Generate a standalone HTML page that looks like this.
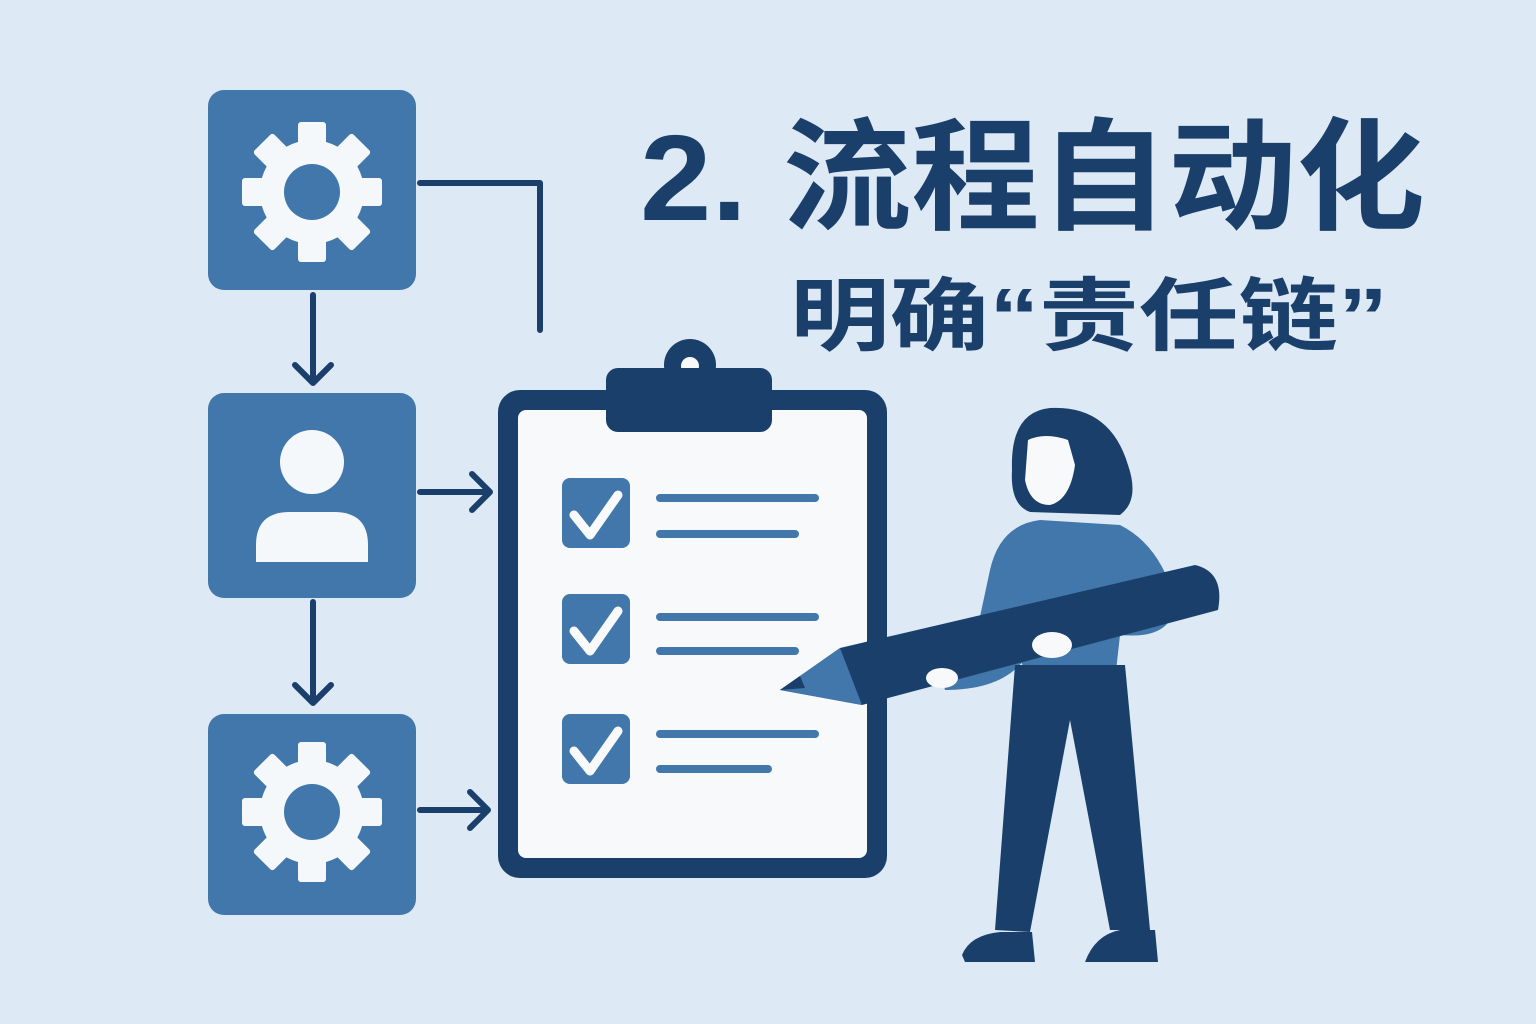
<!DOCTYPE html>
<html><head><meta charset="utf-8"><style>
html,body{margin:0;padding:0;background:#dde9f4;}
svg{display:block}
</style></head><body>
<svg width="1536" height="1024" viewBox="0 0 1536 1024" xmlns="http://www.w3.org/2000/svg">
<rect width="1536" height="1024" fill="#dde9f4"/>
<defs>
<g id="gear">
<g fill="#f4f8fb">
<circle r="52"/>
<g id="t"><rect x="-14" y="-70" width="28" height="30" rx="3"/></g>
<use href="#t" transform="rotate(45)"/><use href="#t" transform="rotate(90)"/><use href="#t" transform="rotate(135)"/>
<use href="#t" transform="rotate(180)"/><use href="#t" transform="rotate(225)"/><use href="#t" transform="rotate(270)"/><use href="#t" transform="rotate(315)"/>
</g>
<circle r="28" fill="#4277ab"/>
</g>
</defs>
<rect x="208" y="90" width="208" height="200" rx="16" fill="#4277ab"/>
<use href="#gear" transform="translate(312,192)"/>
<rect x="208" y="393" width="208" height="205" rx="16" fill="#4277ab"/>
<circle cx="312" cy="462" r="32" fill="#f4f8fb"/>
<path d="M256 562 V545 Q256 512 290 512 H334 Q368 512 368 545 V562 Z" fill="#f4f8fb"/>
<rect x="208" y="714" width="208" height="201" rx="16" fill="#4277ab"/>
<use href="#gear" transform="translate(312,812)"/>
<g stroke="#1b3f6b" stroke-width="6" fill="none" stroke-linecap="round" stroke-linejoin="round">
<path d="M420 183 H540 V330"/>
<path d="M313 295 V383 M295 365 L313 383 L331 365"/>
<path d="M313 602 V703 M295 685 L313 703 L331 685"/>
<path d="M420 492 H490 M472 474 L490 492 L472 510"/>
<path d="M420 810 H488 M470 792 L488 810 L470 828"/>
</g>
<rect x="498" y="390" width="389" height="488" rx="22" fill="#1b3f6b"/>
<rect x="518" y="410" width="349" height="448" rx="8" fill="#f7f9fb"/>
<circle cx="690" cy="365" r="26" fill="#1b3f6b"/>
<circle cx="690" cy="366" r="9" fill="#f7f9fb"/>
<rect x="606" y="368" width="166" height="64" rx="12" fill="#1b3f6b"/>
<g fill="#4277ab">
<rect x="562" y="478" width="68" height="70" rx="8"/>
<rect x="562" y="594" width="68" height="70" rx="8"/>
<rect x="562" y="714" width="68" height="70" rx="8"/>
</g>
<g stroke="#f7f9fb" stroke-width="9" fill="none" stroke-linecap="round" stroke-linejoin="round">
<path d="M574 515 L590 535 L618 495"/>
<path d="M574 631 L590 651 L618 611"/>
<path d="M574 751 L590 771 L618 731"/>
</g>
<g stroke="#4277ab" stroke-width="8" stroke-linecap="round">
<path d="M660 498 H815 M660 534 H795 M660 617 H815 M660 651 H795 M660 734 H815 M660 769 H768"/>
</g>
<!-- woman -->
<path d="M1050 408 Q1010 412 1012 470 Q1010 505 1030 512 L1120 515 Q1140 500 1128 465 Q1110 405 1050 408Z" fill="#1b3f6b"/>
<path d="M1028 440 Q1045 432 1068 440 L1075 465 Q1070 500 1050 505 Q1030 505 1025 480 Z" fill="#f7f9fb"/>
<path d="M1040 520 Q1000 525 990 570 L975 640 L1020 660 L1030 680 L1115 680 L1120 635 Q1175 640 1175 600 Q1160 545 1120 525 Z" fill="#4277ab"/>
<path d="M990 600 Q1000 650 940 668 L945 690 Q1010 690 1030 650 Z" fill="#4277ab"/>
<path d="M1015 665 L995 930 L1030 932 L1070 720 L1110 930 L1150 930 L1125 665 Z" fill="#1b3f6b"/>
<path d="M962 955 Q970 935 1000 932 L1032 932 L1035 962 L965 962Z" fill="#1b3f6b"/>
<path d="M1085 962 Q1095 935 1120 930 L1155 930 L1158 962Z" fill="#1b3f6b"/>
<!-- pencil -->
<path d="M780 690 L840 648 L1195 565 Q1225 572 1218 610 L862 705 Z" fill="#1b3f6b"/>
<path d="M780 690 L840 648 L862 705 Z" fill="#4277ab"/>
<path d="M780 690 L800 676 L805 688 Z" fill="#1b3f6b"/>
<ellipse cx="1052" cy="645" rx="20" ry="13" fill="#f7f9fb"/>
<ellipse cx="942" cy="678" rx="16" ry="10" fill="#f7f9fb"/>
<text x="640" y="220" font-family="'Liberation Sans','Noto Sans CJK SC',sans-serif" font-weight="bold" font-size="122" fill="#1b3f6b" textLength="785" lengthAdjust="spacingAndGlyphs">2. 流程自动化</text>
<text x="790" y="344" font-family="'Liberation Sans','Noto Sans CJK SC',sans-serif" font-weight="bold" font-size="80" fill="#1b3f6b" textLength="598" lengthAdjust="spacingAndGlyphs">明确“责任链”</text>
</svg>
</body></html>
